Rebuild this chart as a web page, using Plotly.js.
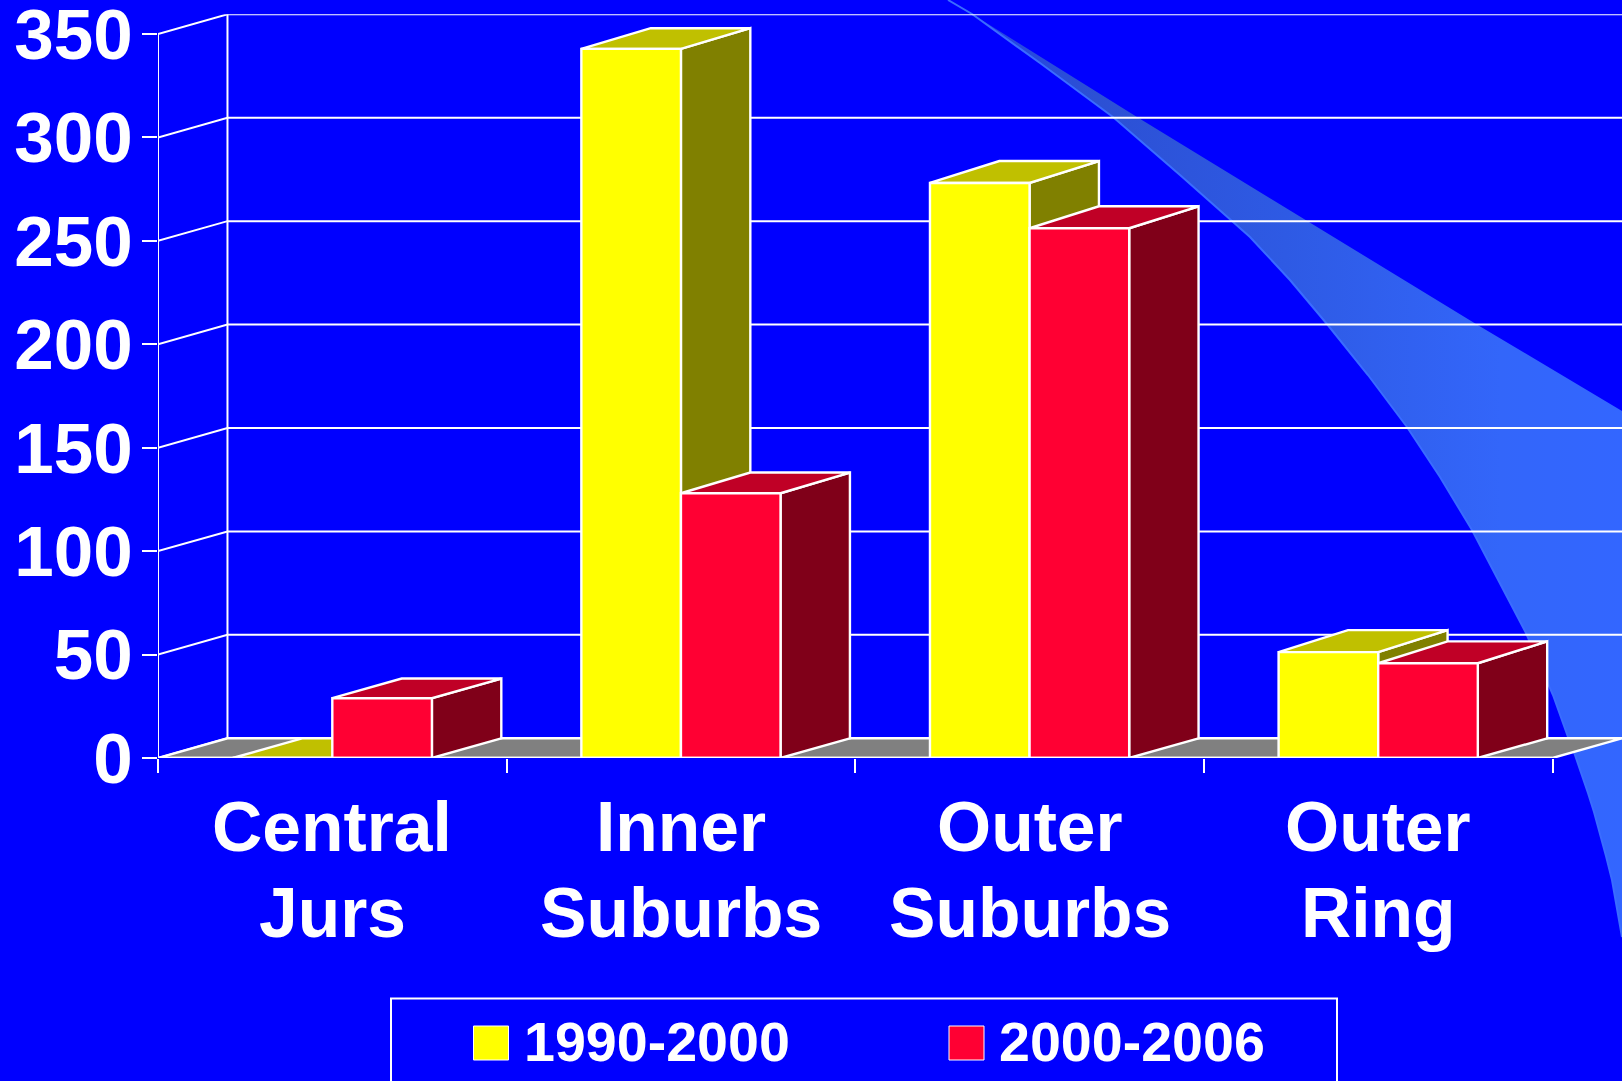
<!DOCTYPE html>
<html>
<head>
<meta charset="utf-8">
<script src="https://cdn.plot.ly/plotly-3.0.1.min.js"></script>
<style>html,body{margin:0;padding:0;background:#0000FF;overflow:hidden}</style>
</head>
<body>
<div id="chart" style="width:1622px;height:1081px"></div>
<script>
// Values per region
const categoryLines = [['Central', 'Jurs'], ['Inner', 'Suburbs'], ['Outer', 'Suburbs'], ['Outer', 'Ring']];
const seriesNames = ['1990-2000', '2000-2006'];
const values1990 = [0, 342.8, 278, 51.2];
const values2000 = [28.9, 128, 256.1, 45.8];
const valueTicks = [0, 50, 100, 150, 200, 250, 300, 350];
const boundaryTicks = [-0.5, 0.5, 1.5, 2.5, 3.5];

// Face colours: front, top, side
const yellowFaces = ['#FFFF00', '#C0C000', '#808000'];
const redFaces = ['#FF0033', '#C00026', '#800019'];

// Oblique projection of the box depth, in axis units
const depthX = 0.199;
const wallDepthX = 0.1993;
const depthY = 9.53;
const topDepthY = [9.5, 10, 10.6, 10.6];
const barWidth = 1 / 3.5;

const WHITE = '#FFFFFF';
const FONT = 'Liberation Sans, Arial, sans-serif';
const traces = [];

// Backdrop swoosh, in page pixels on its own hidden axes
const swooshUpper = [[948,0],[972,14],[1137,117],[1307,221],[1476,324],[1622,411]];
const swooshLower = [[1622,937],[1617,908],[1612,880],[1606,856],[1600,833],[1594,812],[1588,793],[1575,755],[1568,737],[1553,695],[1526,633],[1500,583],[1472,530],[1440,477],[1407,427],[1368,375],[1327,324],[1290,280],[1250,237],[1180,175],[1113,117],[1040,63],[972,14],[948,0]];
const swoosh = swooshUpper.concat(swooshLower);
traces.push({
  type: 'scatter', xaxis: 'x', yaxis: 'y', mode: 'lines', hoverinfo: 'skip', showlegend: false,
  x: swoosh.map(p => p[0]), y: swoosh.map(p => p[1]),
  line: {width: 0}, fill: 'toself',
  fillgradient: {type: 'horizontal', colorscale: [
    [0, 'rgb(34,66,232)'], [0.22, 'rgb(44,80,212)'], [0.5, 'rgb(46,90,228)'], [0.82, 'rgb(51,102,250)'], [1, 'rgb(51,102,255)']
  ]}
});
traces.push({
  type: 'scatter', xaxis: 'x', yaxis: 'y', mode: 'lines', hoverinfo: 'skip', showlegend: false,
  x: swooshLower.map(p => p[0]), y: swooshLower.map(p => p[1]),
  line: {width: 2, color: '#3A6CFF'}
});

function outline(xs, ys, width) {
  traces.push({
    type: 'scatter', xaxis: 'x2', yaxis: 'y2', mode: 'lines', hoverinfo: 'skip', showlegend: false,
    cliponaxis: false, x: xs, y: ys, line: {color: WHITE, width: width || 2}
  });
}
function face(xs, ys, color) {
  traces.push({
    type: 'scatter', xaxis: 'x2', yaxis: 'y2', mode: 'lines', hoverinfo: 'skip', showlegend: false,
    cliponaxis: false, x: xs.concat(xs[0]), y: ys.concat(ys[0]),
    fill: 'toself', fillcolor: color, line: {color: WHITE, width: 2.4}
  });
}

const xStart = boundaryTicks[0];
const xEnd = boundaryTicks[boundaryTicks.length - 1];

// Back wall with its gridlines and the returns to the front axis
valueTicks.forEach(v => {
  outline([xStart, xStart + wallDepthX, xEnd + wallDepthX], [v, v + depthY, v + depthY]);
});
outline([xStart + wallDepthX, xStart + wallDepthX], [depthY, 350 + depthY]);
outline([xStart, xStart], [0, 350]);

// Floor
face([xStart, xEnd, xEnd + wallDepthX, xStart + wallDepthX], [0, 0, depthY, depthY], '#808080');

function box(x0, value, colors, topDepth) {
  const x1 = x0 + barWidth;
  face([x1, x1 + depthX, x1 + depthX, x1], [0, depthY, value + topDepth, value], colors[2]);
  face([x0, x1, x1 + depthX, x0 + depthX], [value, value, value + topDepth, value + topDepth], colors[1]);
  face([x0, x1, x1, x0], [0, 0, value, value], colors[0]);
}

categoryLines.forEach((c, i) => {
  box(i - barWidth, values1990[i], yellowFaces, topDepthY[i]);
  box(i, values2000[i], redFaces, topDepthY[i]);
});

outline([xStart, xEnd], [0, 0], 2.4);

// Legend frame, swatches and labels
const px = v => v / 1622;
const py = v => 1 - v / 1081;
const swatchLefts = [473.5, 949];
const swatchColors = [yellowFaces[0], redFaces[0]];
const labelLefts = [522, 997];
const categoryLineCentres = [827, 913];

const shapes = [{
  type: 'rect', xref: 'paper', yref: 'paper', x0: px(391), x1: px(1337), y0: -0.1, y1: py(998.5),
  line: {color: WHITE, width: 2}, fillcolor: 'rgba(0,0,0,0)'
}];
swatchLefts.forEach((left, i) => {
  shapes.push({
    type: 'rect', xref: 'paper', yref: 'paper', x0: px(left), x1: px(left + 35), y0: py(1060), y1: py(1026),
    line: {color: WHITE, width: 1}, fillcolor: swatchColors[i]
  });
});
const annotations = seriesNames.map((name, i) => ({
  xref: 'paper', yref: 'paper', x: px(labelLefts[i]), y: py(1042), xanchor: 'left', yanchor: 'middle',
  text: name, showarrow: false, font: {family: FONT, size: 55.6, color: WHITE, weight: 700}
}));
categoryLines.forEach((lines, i) => {
  lines.forEach((line, k) => {
    annotations.push({
      xref: 'x2', yref: 'paper', x: i, y: py(categoryLineCentres[k]), xanchor: 'center', yanchor: 'middle',
      text: line, showarrow: false, font: {family: FONT, size: 69.6, color: WHITE, weight: 700}
    });
  });
});

const layout = {
  width: 1622, height: 1081,
  margin: {l: 0, r: 0, t: 0, b: 0},
  paper_bgcolor: '#0000FF', plot_bgcolor: 'rgba(0,0,0,0)',
  showlegend: false, hovermode: false,
  xaxis: {domain: [0, 1], range: [0, 1622], visible: false, fixedrange: true},
  yaxis: {domain: [0, 1], range: [1081, 0], visible: false, fixedrange: true},
  xaxis2: {
    domain: [158 / 1622, 1], range: [xStart, xEnd + wallDepthX], anchor: 'y2', fixedrange: true,
    showgrid: false, zeroline: false, showline: false, showticklabels: false,
    tickmode: 'array', tickvals: [], ticks: '',
    minor: {tickmode: 'array', tickvals: boundaryTicks, ticks: 'outside', ticklen: 14, tickwidth: 2, tickcolor: WHITE, showgrid: false}
  },
  yaxis2: {
    domain: [(1081 - 758) / 1081, (1081 - 14.3) / 1081], range: [0, 350 + depthY], anchor: 'x2', fixedrange: true,
    showgrid: false, zeroline: false, showline: false,
    tickmode: 'array', tickvals: valueTicks, ticks: 'outside', ticklen: 15, tickwidth: 2, tickcolor: WHITE,
    ticklabelstandoff: -5, ticklabeloverflow: 'allow',
    tickfont: {family: FONT, size: 71, color: WHITE, weight: 700}
  },
  shapes: shapes,
  annotations: annotations
};

Plotly.newPlot('chart', traces, layout, {displayModeBar: false, staticPlot: true});
</script>
</body>
</html>
